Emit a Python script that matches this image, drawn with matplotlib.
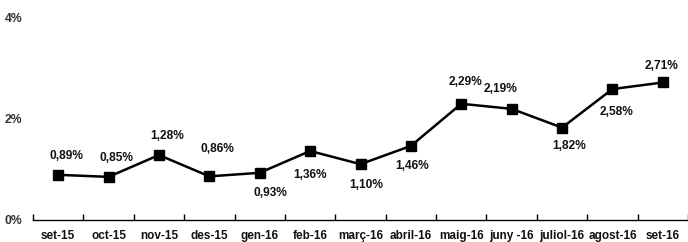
import numpy as np
import matplotlib.pyplot as plt

# monthly values (%)
months = ['set-15', 'oct-15', 'nov-15', 'des-15', 'gen-16', 'feb-16', 'març-16',
          'abril-16', 'maig-16', 'juny -16', 'juliol-16', 'agost-16', 'set-16']
values = [0.89, 0.85, 1.28, 0.86, 0.93, 1.36, 1.10, 1.46, 2.29, 2.19, 1.82, 2.58, 2.71]
ytick_vals = [0, 2, 4]
ytick_labels = ['0%', '2%', '4%']

# label offsets in pixels (dx, dy) relative to each point
label_offsets = [(8, 19), (8, 19), (8, 19), (8, 27), (11, -20), (0, -24), (6, -21),
                 (1, -20), (4, 22), (-11, 20), (7, -18), (4, -23), (-1, 16)]

plt.rcParams['font.family'] = ['Liberation Sans', 'DejaVu Sans']
plt.rcParams['font.weight'] = 'bold'

fig = plt.figure(figsize=(6.88, 2.42), dpi=100)
ax = fig.add_axes([33/688, 1-220/242, 1-33/688, (220-17)/242])

x = np.arange(len(months))
ax.plot(x, values, color='black', lw=1.8, marker='s', ms=6.5, zorder=3)

for xi, v, (dx, dy) in zip(x, values, label_offsets):
    ax.annotate('{:.2f}%'.format(v).replace('.', ','), (xi, v), xytext=(dx, dy),
                textcoords='offset pixels', ha='center', va='center',
                fontsize=8.6, fontweight='bold', color='#111111')

ax.set_xlim(-0.5, len(months)-0.5)
ax.set_ylim(0, 4)
ax.set_yticks(ytick_vals)
ax.set_yticklabels(ytick_labels, fontweight='bold', fontsize=8.8)
ax.set_xticks(x)
ax.set_xticklabels(months, fontweight='bold', fontsize=8.5)
ax.set_xticks(np.arange(-0.5, len(months), 1), minor=True)

for s in ['top', 'right', 'left']:
    ax.spines[s].set_visible(False)
ax.spines['bottom'].set_linewidth(1.0)

ax.tick_params(axis='x', which='major', length=0, pad=7, labelcolor='#111111')
ax.tick_params(axis='x', which='minor', direction='in', length=4, width=1)
ax.tick_params(axis='y', length=0, pad=7.5, labelcolor='#333333')

fig.savefig('out.png', dpi=100)
